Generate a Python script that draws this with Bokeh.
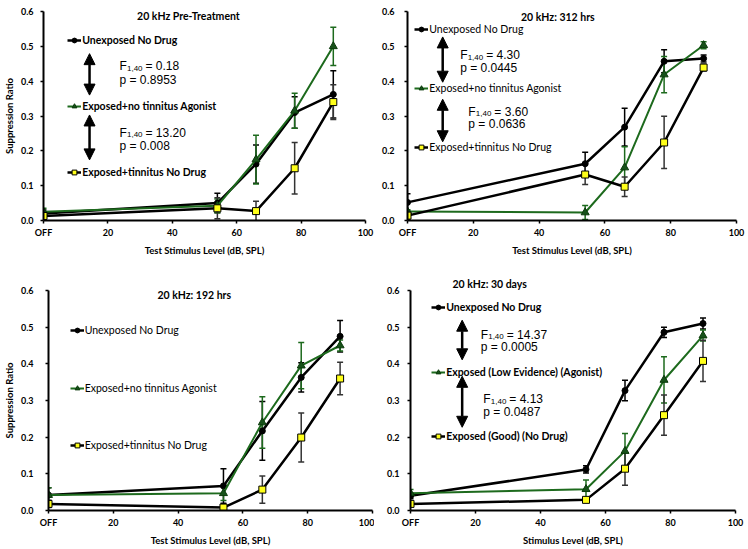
from bokeh.plotting import figure
from bokeh.models import (Whisker, TeeHead, Arrow, NormalHead, Label, Legend, LegendItem,
                          FixedTicker, NumeralTickFormatter, ColumnDataSource, Range1d)
from bokeh.layouts import column, row
from bokeh.embed import file_html
from bokeh.resources import INLINE

# ---------------- data ----------------
levels = [0, 54, 66, 78, 90]
x_ticks = [0, 20, 40, 60, 80, 100]
x_tick_labels = ["OFF", "20", "40", "60", "80", "100"]
y_ticks = [0.0, 0.1, 0.2, 0.3, 0.4, 0.5, 0.6]

# Panel A: 20 kHz Pre-Treatment
pre_unexposed = [0.020, 0.050, 0.162, 0.310, 0.362]
pre_unexposed_err = [0.010, 0.028, 0.055, 0.045, 0.068]
pre_agonist = [0.025, 0.042, 0.175, 0.315, 0.500]
pre_agonist_err = [0.010, 0.020, 0.070, 0.050, 0.055]
pre_tinnitus = [0.013, 0.035, 0.027, 0.150, 0.340]
pre_tinnitus_err = [0.008, 0.030, 0.028, 0.074, 0.050]

# Panel B: 20 kHz 312 hrs
h312_unexposed = [0.052, 0.163, 0.268, 0.457, 0.465]
h312_unexposed_err = [0.025, 0.033, 0.054, 0.033, 0.010]
h312_agonist = [0.026, 0.023, 0.152, 0.419, 0.503]
h312_agonist_err = [0.005, 0.020, 0.060, 0.052, 0.010]
h312_tinnitus = [0.014, 0.132, 0.097, 0.224, 0.439]
h312_tinnitus_err = [0.010, 0.029, 0.028, 0.075, 0.010]

# Panel C: 20 kHz 192 hrs
h192_unexposed = [0.042, 0.067, 0.217, 0.363, 0.475]
h192_unexposed_err = [0.020, 0.047, 0.080, 0.040, 0.043]
h192_agonist = [0.042, 0.047, 0.240, 0.395, 0.450]
h192_agonist_err = [0.020, 0.020, 0.070, 0.063, 0.015]
h192_tinnitus = [0.018, 0.008, 0.057, 0.199, 0.360]
h192_tinnitus_err = [0.010, 0.005, 0.037, 0.067, 0.044]

# Panel D: 20 kHz 30 days
d30_unexposed = [0.040, 0.112, 0.327, 0.486, 0.510]
d30_unexposed_err = [0.008, 0.010, 0.028, 0.014, 0.015]
d30_agonist = [0.047, 0.058, 0.162, 0.356, 0.477]
d30_agonist_err = [0.010, 0.025, 0.048, 0.063, 0.015]
d30_tinnitus = [0.018, 0.029, 0.114, 0.260, 0.408]
d30_tinnitus_err = [0.005, 0.005, 0.045, 0.055, 0.056]

titles = ["20 kHz Pre-Treatment", "20 kHz: 312 hrs", "20 kHz: 192 hrs", "20 kHz: 30 days"]
labels_std = ["Unexposed No Drug", "Exposed+no tinnitus Agonist", "Exposed+tinnitus No Drug"]
labels_30d = ["Unexposed No Drug", "Exposed (Low Evidence) (Agonist)", "Exposed (Good) (No Drug)"]
stats_pre = [("0.18", "0.8953"), ("13.20", "0.008")]
stats_312 = [("4.30", "0.0445"), ("3.60", "0.0636")]
stats_30d = [("14.37", "0.0005"), ("4.13", "0.0487")]

# ---------------- styles ----------------
GREEN = "#1d6a1d"
AX_FONT = "Lato"
STAT_FONT = "Liberation Sans"

series_styles = [
    dict(color="black", marker="circle", size=6, fill="black", lw=2.5, err="black"),
    dict(color=GREEN, marker="triangle", size=8, fill="#17521a", lw=2.0, err=GREEN),
    dict(color="black", marker="square", size=7, fill="#ffff1a", lw=2.5, err="#333333"),
]


def make_panel(title, data, errs, legend_labels, xlabel, ylabel, width, height,
               borders, legend_pos, bold_legend, arrows, stats, title_pos,
               ytick_standoff=6, title_outside=False):
    left, right, top, bottom = borders
    p = figure(width=width, height=height, output_backend="svg", toolbar_location=None,
               x_range=Range1d(0, 100), y_range=Range1d(0, 0.6),
               min_border_left=left, min_border_right=right,
               min_border_top=top, min_border_bottom=bottom)
    fw = width - left - right
    fh = height - top - bottom
    p.outline_line_color = None
    p.xgrid.visible = False
    p.ygrid.visible = False
    p.background_fill_color = "white"
    for ax in (p.xaxis[0], p.yaxis[0]):
        ax.axis_line_width = 2
        ax.axis_line_color = "black"
        ax.major_tick_line_width = 1.5
        ax.major_tick_out = 3
        ax.major_tick_in = 0
        ax.minor_tick_line_color = None
        ax.major_label_text_font = AX_FONT
        ax.major_label_text_font_style = "bold"
        ax.major_label_text_font_size = "9px"
        ax.major_label_text_color = "black"
        ax.axis_label_text_font = AX_FONT
        ax.axis_label_text_font_style = "bold"
        ax.axis_label_text_font_size = "9.5px"
        ax.axis_label_text_color = "black"
    p.xaxis.major_label_standoff = 3
    p.xaxis.axis_label_standoff = 4
    p.yaxis.major_label_standoff = ytick_standoff
    p.yaxis.axis_label_standoff = 3
    p.xaxis.ticker = FixedTicker(ticks=x_ticks)
    p.xaxis.major_label_overrides = dict(zip(x_ticks, x_tick_labels))
    p.yaxis.ticker = FixedTicker(ticks=y_ticks)
    p.yaxis.formatter = NumeralTickFormatter(format="0.0")
    p.xaxis.axis_label = xlabel
    if ylabel:
        p.yaxis.axis_label = ylabel

    for vals, err, st, lab, (lx, ly) in zip(data, errs, series_styles, legend_labels, legend_pos):
        src = ColumnDataSource(dict(x=levels, y=vals,
                                    upper=[v + e for v, e in zip(vals, err)],
                                    lower=[v - e for v, e in zip(vals, err)]))
        w = Whisker(source=src, base="x", upper="upper", lower="lower", dimension="height",
                    line_color=st["err"], line_width=1.5,
                    upper_head=TeeHead(size=6, line_color=st["err"], line_width=1.5),
                    lower_head=TeeHead(size=6, line_color=st["err"], line_width=1.5))
        w.level = "underlay"
        p.add_layout(w)
        lr = p.line("x", "y", source=src, line_color=st["color"], line_width=st["lw"])
        sr = p.scatter("x", "y", source=src, marker=st["marker"], size=st["size"],
                       fill_color=st["fill"], line_color="black" if st["marker"] != "triangle" else "#0b3a0b",
                       line_width=1)
        leg = Legend(items=[LegendItem(label=lab, renderers=[lr, sr])],
                     location=(lx / 100 * fw, ly / 0.6 * fh - 6),
                     background_fill_alpha=0, border_line_alpha=0, padding=0, margin=0,
                     spacing=0, glyph_width=14, glyph_height=12, label_height=12,
                     label_standoff=1, label_text_font=AX_FONT,
                     label_text_font_size="10.5px",
                     label_text_font_style="bold" if bold_legend else "normal",
                     label_text_color="black")
        p.add_layout(leg)

    for (ax_, y0, y1) in arrows:
        p.add_layout(Arrow(x_start=ax_, y_start=y0, x_end=ax_, y_end=y1, line_width=2.5,
                           line_color="black",
                           start=NormalHead(size=11, fill_color="black", line_color="black"),
                           end=NormalHead(size=11, fill_color="black", line_color="black")))

    for (sx, sy_f, sy_p), (fval, pval) in stats:
        common = dict(text_font=STAT_FONT, text_color="black", text_baseline="middle")
        p.add_layout(Label(x=sx, y=sy_f, text="F", text_font_size="12px", **common))
        p.add_layout(Label(x=sx, y=sy_f, x_offset=7.5, y_offset=-2, text="1,40",
                           text_font_size="8px", **common))
        p.add_layout(Label(x=sx, y=sy_f, x_offset=26, text="= " + fval,
                           text_font_size="12px", **common))
        p.add_layout(Label(x=sx, y=sy_p, text="p = " + pval, text_font_size="12px", **common))

    if title_outside:
        p.title.text = title
        p.title.align = "left"
        p.title.offset = title_pos[0]
        p.title.standoff = 1
        p.title.text_font = AX_FONT
        p.title.text_font_style = "bold"
        p.title.text_font_size = "10.5px"
        p.title.text_color = "black"
    else:
        tx, ty = title_pos
        p.add_layout(Label(x=tx, y=ty, text=title, text_align="center", text_baseline="middle",
                           text_font=AX_FONT, text_font_style="bold", text_font_size="10.5px",
                           text_color="black"))
    return p


pA = make_panel(titles[0], [pre_unexposed, pre_agonist, pre_tinnitus],
                [pre_unexposed_err, pre_agonist_err, pre_tinnitus_err], labels_std,
                "Test Stimulus Level (dB, SPL)", "Suppression Ratio", 374, 262,
                (43, 9, 11, 41), [(7.5, 0.515), (7.5, 0.327), (7.5, 0.136)], True,
                [(14.3, 0.479, 0.36), (14.3, 0.303, 0.174)],
                [((23.6, 0.443, 0.403), stats_pre[0]), ((23.6, 0.252, 0.215), stats_pre[1])],
                (45, 0.586), ytick_standoff=7)
pB = make_panel(titles[1], [h312_unexposed, h312_agonist, h312_tinnitus],
                [h312_unexposed_err, h312_agonist_err, h312_tinnitus_err], labels_std,
                "Test Stimulus Level (dB, SPL)", None, 374, 262,
                (33, 12, 7, 42), [(2.2, 0.539), (2.2, 0.372), (2.2, 0.206)], False,
                [(10.7, 0.527, 0.397), (10.7, 0.348, 0.226)],
                [((16, 0.475, 0.439), stats_312[0]), ((18.5, 0.312, 0.276), stats_312[1])],
                (45.7, 0.585), ytick_standoff=10)
pC = make_panel(titles[2], [h192_unexposed, h192_agonist, h192_tinnitus],
                [h192_unexposed_err, h192_agonist_err, h192_tinnitus_err], labels_std,
                "Test Stimulus Level (dB, SPL)", "Suppression Ratio", 374, 286,
                (44, 2, 27, 36), [(6.6, 0.484), (6.6, 0.328), (6.6, 0.174)], False,
                [], [], (45, 0.587), ytick_standoff=12)
pD = make_panel(titles[3], [d30_unexposed, d30_agonist, d30_tinnitus],
                [d30_unexposed_err, d30_agonist_err, d30_tinnitus_err], labels_30d,
                "Stimulus Level (dB, SPL)", None, 374, 286,
                (36, 13, 28, 36), [(6.5, 0.55), (6.5, 0.374), (6.5, 0.2)], True,
                [(15.9, 0.519, 0.411), (15.9, 0.366, 0.227)],
                [((21.6, 0.48, 0.447), stats_30d[0]), ((22.4, 0.303, 0.269), stats_30d[1])],
                (42, 0.0), ytick_standoff=8, title_outside=True)

layout = column(row(pA, pB, spacing=0), row(pC, pD, spacing=0), spacing=0)
open("out.html", "w").write(file_html(layout, INLINE))
